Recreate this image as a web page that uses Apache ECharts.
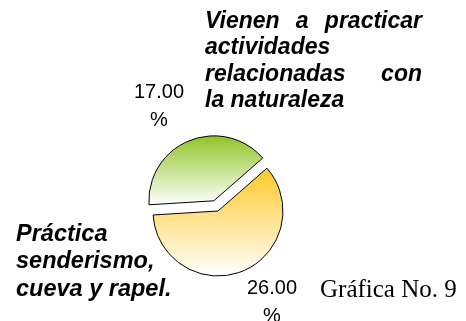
<!DOCTYPE html>
<html>
<head>
<meta charset="utf-8">
<script src="https://cdn.jsdelivr.net/npm/echarts@6/dist/echarts.min.js"></script>
<style>
  html, body { margin: 0; padding: 0; background: #fff; }
  #main { width: 466px; height: 321px; }
</style>
</head>
<body>
<div id="main"></div>
<script>
// datos de la gráfica
const categories = [
  'Vienen a practicar actividades relacionadas con la naturaleza',
  'Práctica senderismo, cueva y rapel.'
];
const values = [17, 26];
// cortes de línea de cada etiqueta, como en el original
const nameLines = [
  ['Vienen a practicar', 'actividades', 'relacionadas con', 'la naturaleza'],
  ['Práctica', 'senderismo,', 'cueva y rapel.']
];
const valueLabels = values.map(v => [v.toFixed(2), '%']);
const titleText = 'Gráfica No. 9';

const sansFamily = '"Liberation Sans", Arial, sans-serif';
const serifFamily = '"Liberation Serif", "Times New Roman", serif';

// medir texto para justificar
const measureCtx = document.createElement('canvas').getContext('2d');
function measure(text, font) {
  measureCtx.font = font;
  return measureCtx.measureText(text).width;
}

// convierte la línea base en y para verticalAlign middle
function midY(baseline, size) {
  return baseline - size * 0.33;
}

function wordText(text, x, baseline, size, font, align) {
  return {
    type: 'text',
    x: x,
    y: midY(baseline, size),
    silent: true,
    style: {
      text: text,
      font: font,
      fill: '#000',
      textAlign: align,
      textVerticalAlign: 'middle',
      align: align,
      verticalAlign: 'middle'
    }
  };
}

// bloque de texto justificado (menos la última línea)
function justifiedBlock(lines, x0, x1, baseline0, lineHeight, size) {
  const font = 'italic bold ' + size + 'px ' + sansFamily;
  const out = [];
  lines.forEach((line, i) => {
    const y = baseline0 + i * lineHeight;
    const words = line.split(' ');
    if (i < lines.length - 1 && words.length > 1) {
      const widths = words.map(w => measure(w, font));
      const sum = widths.reduce((a, b) => a + b, 0);
      const gap = (x1 - x0 - sum) / (words.length - 1);
      let x = x0;
      words.forEach((w, k) => {
        out.push(wordText(w, x, y, size, font, 'left'));
        x += widths[k] + gap;
      });
    } else {
      out.push(wordText(line, x0, y, size, font, 'left'));
    }
  });
  return out;
}

function centeredBlock(lines, cx, baseline0, lineHeight, size) {
  const font = size + 'px ' + sansFamily;
  return lines.map((l, i) => wordText(l, cx, baseline0 + i * lineHeight, size, font, 'center'));
}

const gradients = [
  new echarts.graphic.LinearGradient(0, 0, 0, 1, [
    { offset: 0, color: '#8EC526' },
    { offset: 1, color: '#FFFFFF' }
  ]),
  new echarts.graphic.LinearGradient(0, 0, 0, 1, [
    { offset: 0, color: '#FFC929' },
    { offset: 1, color: '#FFFFFF' }
  ])
];

const graphics = []
  .concat(justifiedBlock(nameLines[0], 205, 422, 29, 26.5, 23))
  .concat(justifiedBlock(nameLines[1], 16, 200, 242, 27.5, 23.5))
  .concat(centeredBlock(valueLabels[0], 159, 99, 28, 20))
  .concat(centeredBlock(valueLabels[1], 272, 295, 28, 20));

const chart = echarts.init(document.getElementById('main'));
chart.setOption({
  animation: false,
  backgroundColor: '#fff',
  title: {
    text: titleText,
    left: 320,
    top: 278,
    padding: 0,
    textStyle: {
      fontFamily: serifFamily,
      fontWeight: 'normal',
      fontSize: 25,
      color: '#000'
    }
  },
  graphic: graphics,
  series: [{
    type: 'pie',
    center: [218, 211],
    radius: 65,
    startAngle: 183.5,
    clockwise: true,
    selectedMode: 'single',
    selectedOffset: 11,
    label: { show: false },
    labelLine: { show: false },
    emphasis: { disabled: true },
    itemStyle: {
      borderColor: '#000',
      borderWidth: 1
    },
    data: categories.map((c, i) => ({
      name: c,
      value: values[i],
      selected: i === 0,
      itemStyle: { color: gradients[i] }
    }))
  }]
});
</script>
</body>
</html>
